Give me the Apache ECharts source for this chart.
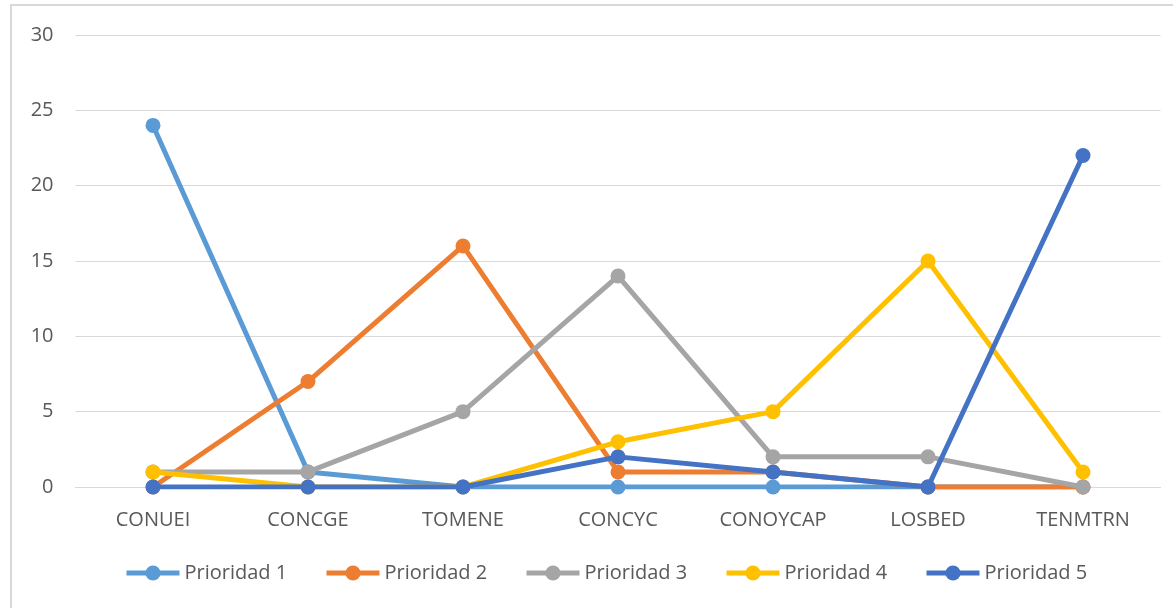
<!DOCTYPE html>
<html><head><meta charset="utf-8">
<script src="https://cdn.jsdelivr.net/npm/echarts@6/dist/echarts.min.js"></script>
<style>html,body{margin:0;padding:0;background:#fff}#c{width:1173px;height:608px}</style>
</head><body><div id="c"></div>
<script>
const categories = ['CONUEI','CONCGE','TOMENE','CONCYC','CONOYCAP','LOSBED','TENMTRN'];
const seriesNames = ['Prioridad 1','Prioridad 2','Prioridad 3','Prioridad 4','Prioridad 5'];
const prioridad1 = [24, 1, 0, 0, 0, 0, 0];
const prioridad2 = [0, 7, 16, 1, 1, 0, 0];
const prioridad3 = [1, 1, 5, 14, 2, 2, 0];
const prioridad4 = [1, 0, 0, 3, 5, 15, 1];
const prioridad5 = [0, 0, 0, 2, 1, 0, 22];
const colors = ['#5B9BD5','#ED7D31','#A5A5A5','#FFC000','#4472C4'];
const values = [prioridad1, prioridad2, prioridad3, prioridad4, prioridad5];
const font = 'Open Sans';
const chart = echarts.init(document.getElementById('c'));
chart.setOption({
  animation: false,
  color: colors,
  graphic: [{type:'rect', shape:{x:11, y:5, width:1300, height:800}, style:{fill:'none', stroke:'#d9d9d9', lineWidth:2}, silent:true}],
  grid: {left: 75.5, right: 12.5, top: 35, bottom: 121},
  legend: seriesNames.map((n, i) => ({
    data: [n], left: 124 + i * 200, top: 563, padding: 0, itemWidth: 53, itemHeight: 19, itemGap: 6,
    lineStyle: {width: 5},
    textStyle: {fontFamily: font, fontSize: 20, color: '#595959', padding: [0,0,0,0]}
  })),
  xAxis: {
    type: 'category', data: categories, boundaryGap: true,
    axisLine: {show: true, lineStyle: {color: '#d9d9d9', width: 1}},
    axisTick: {show: false},
    axisLabel: {fontFamily: font, fontSize: 20, color: '#595959', margin: 23}
  },
  yAxis: {
    type: 'value', min: 0, max: 30, interval: 5,
    axisLine: {show: false}, axisTick: {show: false},
    axisLabel: {fontFamily: font, fontSize: 20, color: '#595959', margin: 22},
    splitLine: {lineStyle: {color: '#d9d9d9', width: 1}}
  },
  series: values.map((v, i) => ({
    name: seriesNames[i], type: 'line', data: v,
    symbol: 'circle', symbolSize: 15,
    lineStyle: {width: 5, color: colors[i]},
    itemStyle: {color: colors[i]},
    z: 2 + i
  }))
});
</script></body></html>
